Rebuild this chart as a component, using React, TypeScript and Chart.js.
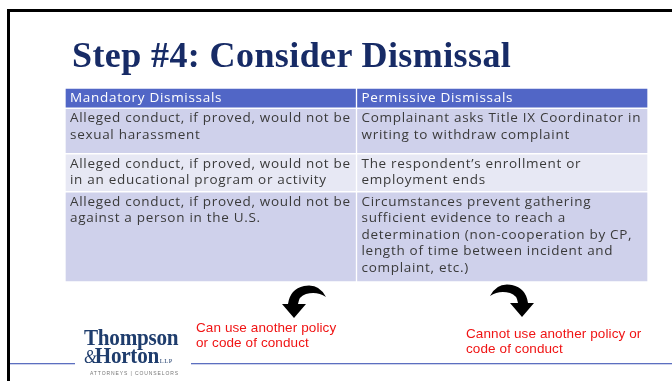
import React, { useEffect, useRef } from "react";
import { Chart, registerables } from "chart.js";

Chart.register(...registerables);

// ---- data ----
const titleText = "Step #4: Consider Dismissal";
const columnLabels = ["Mandatory Dismissals", "Permissive Dismissals"];
const mandatoryCells: string[][] = [
  ["Alleged conduct, if proved, would not be", "sexual harassment"],
  ["Alleged conduct, if proved, would not be", "in an educational program or activity"],
  ["Alleged conduct, if proved, would not be", "against a person in the U.S."],
];
const permissiveCells: string[][] = [
  ["Complainant asks Title IX Coordinator in", "writing to withdraw complaint"],
  ["The respondent\u2019s enrollment or", "employment ends"],
  [
    "Circumstances prevent gathering",
    "sufficient evidence to reach a",
    "determination (non-cooperation by CP,",
    "length of time between incident and",
    "complaint, etc.)",
  ],
];
// row heights in text-line units (header + 3 body rows)
const rowSpans = [1.2, 2.7, 2.25, 5.35];
const rowColors = ["#5166C6", "#CFD1EB", "#E7E8F4", "#CFD1EB"];
const leftCaption = ["Can use another policy", "or code of conduct"];
const rightCaption = ["Cannot use another policy or", "code of conduct"];

const cellFont = "13.5px 'Open Sans'";
const cellSpacing = 0.7;

const cellTextPlugin = {
  id: "cellText",
  afterDatasetsDraw(chart: any) {
    const ctx = chart.ctx;
    ctx.save();
    ctx.font = cellFont;
    ctx.textBaseline = "middle";
    const hasLS = "letterSpacing" in ctx;
    if (hasLS) ctx.letterSpacing = cellSpacing + "px";
    const draw = (t: string, x: number, y: number) => {
      if (hasLS) {
        ctx.fillText(t, x, y);
      } else {
        let cx = x;
        for (const ch of t) {
          ctx.fillText(ch, cx, y);
          cx += ctx.measureText(ch).width + cellSpacing;
        }
      }
    };
    chart.data.datasets.forEach((_ds: any, i: number) => {
      const meta = chart.getDatasetMeta(i);
      meta.data.forEach((bar: any, j: number) => {
        const p = bar.getProps(["x", "y", "base", "width"], true);
        const top = Math.min(p.y, p.base);
        const left = p.x - p.width / 2;
        const lines =
          i === 0 ? [columnLabels[j]] : (j === 0 ? mandatoryCells : permissiveCells)[i - 1];
        ctx.fillStyle = i === 0 ? "#FFFFFF" : "#3A3A3A";
        lines.forEach((t: string, k: number) => {
          draw(t, left + 5, top + 10 + k * 16.5);
        });
      });
    });
    ctx.restore();
  },
};

function TableChart() {
  const ref = useRef<HTMLCanvasElement | null>(null);
  useEffect(() => {
    if (!ref.current) return;
    let acc = 0;
    const datasets = rowSpans.map((span, i) => {
      const start = acc;
      acc += span;
      return {
        label: i === 0 ? "header" : "row " + i,
        data: columnLabels.map(() => [start, start + span]),
        backgroundColor: rowColors[i],
        borderColor: "#FFFFFF",
        borderWidth: 1,
        borderSkipped: false,
        grouped: false,
        barPercentage: 1,
        categoryPercentage: 1,
      };
    });
    const total = acc;
    const chart = new Chart(ref.current, {
      type: "bar",
      data: { labels: columnLabels, datasets: datasets as any },
      options: {
        animation: false,
        responsive: true,
        maintainAspectRatio: false,
        events: [],
        layout: { padding: { left: 65, right: 24, top: 88, bottom: 99 } },
        plugins: { legend: { display: false }, tooltip: { enabled: false } },
        scales: {
          x: { type: "category", display: false, offset: true },
          y: { type: "linear", display: false, min: 0, max: total, reverse: true },
        },
      },
      plugins: [cellTextPlugin],
    });
    return () => chart.destroy();
  }, []);
  return (
    <canvas
      ref={ref}
      style={{ position: "absolute", left: 0, top: 0, width: 672, height: 381 }}
    />
  );
}

const arrowPath =
  "M326 297 Q319 283 304 286 Q290 289 288 304 L282 304 L294 318 L306 304 L298 304 Q299 296 306 294 Q317 291 326 297 Z";

export default function App() {
  return (
    <div
      style={{
        position: "fixed",
        left: 0,
        top: 0,
        width: 672,
        height: 381,
        background: "#FFFFFF",
        overflow: "hidden",
      }}
    >
      <TableChart />
      <svg
        width={672}
        height={381}
        style={{ position: "absolute", left: 0, top: 0, pointerEvents: "none" }}
      >
        {/* frame */}
        <rect x={8} y={9} width={664} height={3} fill="#000" />
        <rect x={7} y={9} width={3} height={372} fill="#000" />
        {/* footer rule */}
        <rect x={10} y={363} width={65} height={1.3} fill="#5C6FC0" />
        <rect x={191} y={363} width={481} height={1.3} fill="#5C6FC0" />
        {/* arrows */}
        <path d={arrowPath} fill="#000" />
        <g transform="translate(816,-1) scale(-1,1)">
          <path d={arrowPath} fill="#000" />
        </g>
      </svg>
      <div
        style={{
          position: "absolute",
          left: 72,
          top: 37,
          fontFamily: "'Liberation Serif', serif",
          fontWeight: "bold",
          fontSize: 36,
          lineHeight: "36px",
          letterSpacing: 0.4,
          color: "#172B66",
          whiteSpace: "nowrap",
        }}
      >
        {titleText}
      </div>
      <div
        style={{
          position: "absolute",
          left: 196,
          top: 319.5,
          fontFamily: "'Liberation Sans', Arial, sans-serif",
          fontSize: 13.5,
          lineHeight: "15px",
          letterSpacing: 0.1,
          color: "#F01414",
          whiteSpace: "nowrap",
        }}
      >
        {leftCaption.map((t) => (
          <div key={t}>{t}</div>
        ))}
      </div>
      <div
        style={{
          position: "absolute",
          left: 466,
          top: 325.5,
          fontFamily: "'Liberation Sans', Arial, sans-serif",
          fontSize: 13.5,
          lineHeight: "15px",
          letterSpacing: 0.1,
          color: "#F01414",
          whiteSpace: "nowrap",
        }}
      >
        {rightCaption.map((t) => (
          <div key={t}>{t}</div>
        ))}
      </div>
      {/* logo */}
      <div
        style={{
          position: "absolute",
          left: 84,
          top: 327,
          width: 100,
          fontFamily: "'Liberation Serif', serif",
          fontWeight: "bold",
          color: "#1F3D6D",
          whiteSpace: "nowrap",
        }}
      >
        <div
          style={{
            fontSize: 23,
            lineHeight: "22px",
            letterSpacing: -0.3,
            transform: "scaleX(0.92)",
            transformOrigin: "left",
          }}
        >
          Thompson
        </div>
        <div
          style={{
            fontSize: 23,
            lineHeight: "13px",
            letterSpacing: -0.3,
            transform: "scaleX(0.92)",
            transformOrigin: "left",
          }}
        >
          <span style={{ fontStyle: "italic", fontWeight: "normal", fontSize: 18 }}>&amp;</span>
          <span style={{ marginLeft: -2 }}>Horton</span>
          <span style={{ fontSize: 7, fontWeight: "normal", letterSpacing: 0.6, marginLeft: 1 }}>
            LLP
          </span>
        </div>
        <div
          style={{
            fontFamily: "'Liberation Sans', sans-serif",
            fontWeight: "normal",
            fontSize: 5,
            lineHeight: "6px",
            letterSpacing: 0.9,
            color: "#777",
            marginTop: 2,
            marginLeft: 6,
          }}
        >
          ATTORNEYS | COUNSELORS
        </div>
      </div>
    </div>
  );
}
